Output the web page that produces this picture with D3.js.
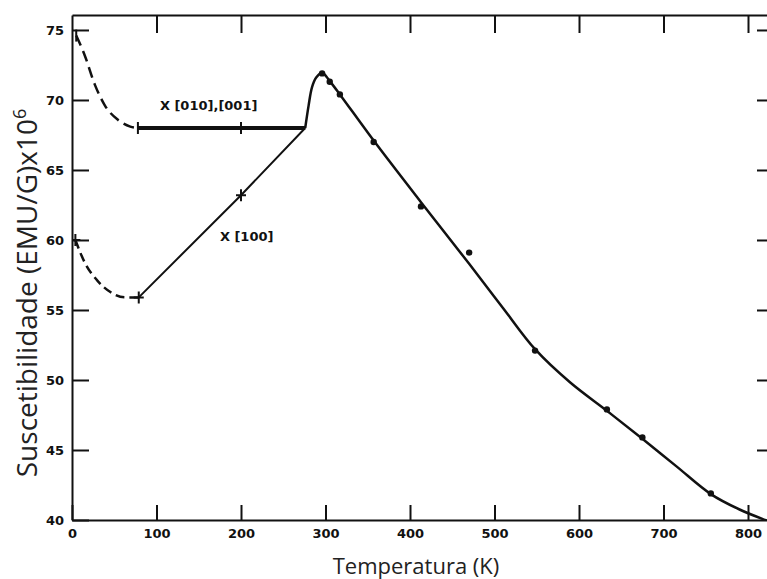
<!DOCTYPE html>
<html>
<head>
<meta charset="utf-8">
<script src="https://cdn.jsdelivr.net/npm/d3@7"></script>
<style>
  body { margin: 0; background: #fff; }
  .tick text { font-family: "DejaVu Sans", sans-serif; font-weight: bold; font-size: 13px; fill: #111; }
  .axis path, .axis line { stroke: #111; stroke-width: 2; }
  .title { font-family: "Open Sans", sans-serif; fill: #222; }
</style>
</head>
<body>
<script>
// data (temperature in K, susceptibility x10^6)
var upperDashT = [5, 15, 27, 39, 54, 69, 79];
var upperDashV = [74.6, 73.2, 71.1, 69.6, 68.6, 68.1, 68.0];
var lowerDashT = [4, 15, 30, 45, 63, 79];
var lowerDashV = [60.0, 58.4, 57.1, 56.3, 55.9, 55.9];
var plateauT = [78, 200, 276];
var plateauV = [68.0, 68.0, 68.0];
var lowerT = [79, 200, 276];
var lowerV = [55.9, 63.2, 68.0];
var curveT = [276, 280, 284, 289, 296, 305, 317, 357, 413, 470, 510, 548, 590, 633, 675, 715, 756, 790, 825];
var curveV = [68.0, 69.6, 70.9, 71.6, 71.95, 71.35, 70.4, 67.1, 62.7, 58.3, 55.15, 52.2, 49.8, 47.8, 45.8, 43.85, 41.85, 40.75, 39.9];
var dotT = [296, 305, 317, 357, 413, 470, 548, 633, 675, 756];
var dotV = [71.9, 71.3, 70.4, 67.0, 62.4, 59.1, 52.1, 47.9, 45.9, 41.9];
var barT = [5, 78, 200];
var barV = [74.6, 68.0, 68.0];
var crossT = [4, 79, 200];
var crossV = [60.0, 55.9, 63.2];
var xTicks = [0, 100, 200, 300, 400, 500, 600, 700, 800];
var yTicks = [40, 45, 50, 55, 60, 65, 70, 75];

var w = 767;
var h = 579;

function zip(ts, vs) {
    // pair temperatures with values
    return ts.map(function(t, i) { return {t: t, v: vs[i]}; });
}

var xScale = d3.scaleLinear().domain([0, 830]).range([72, 773.35]);
var yScale = d3.scaleLinear().domain([40, 76.07]).range([520, 15]);

var svg = d3.select("body")
            .append("svg")
            .attr("width", w)
            .attr("height", h);

svg.append("rect").attr("width", w).attr("height", h).attr("fill", "#fff");

svg.append("clipPath")
   .attr("id", "plot")
   .append("rect")
   .attr("x", 72).attr("y", 15)
   .attr("width", 701).attr("height", 505);

var line = d3.line()
             .x(function(d) { return xScale(d.t); })
             .y(function(d) { return yScale(d.v); });

var g = svg.append("g").attr("clip-path", "url(#plot)");

// dashed low-temperature parts
g.append("path")
 .attr("d", line.curve(d3.curveMonotoneX)(zip(upperDashT, upperDashV)))
 .attr("fill", "none").attr("stroke", "#111")
 .attr("stroke-width", 2.5).attr("stroke-dasharray", "11,6");
g.append("path")
 .attr("d", line.curve(d3.curveMonotoneX)(zip(lowerDashT, lowerDashV)))
 .attr("fill", "none").attr("stroke", "#111")
 .attr("stroke-width", 2.5).attr("stroke-dasharray", "9,5");

// thick plateau for [010],[001]
g.append("path")
 .attr("d", line.curve(d3.curveLinear)(zip(plateauT, plateauV)))
 .attr("fill", "none").attr("stroke", "#111").attr("stroke-width", 4);

// [100] straight line
g.append("path")
 .attr("d", line.curve(d3.curveLinear)(zip(lowerT, lowerV)))
 .attr("fill", "none").attr("stroke", "#111").attr("stroke-width", 2);

// high temperature curve
g.append("path")
 .attr("d", line.curve(d3.curveCatmullRom.alpha(0.5))(zip(curveT, curveV)))
 .attr("fill", "none").attr("stroke", "#111").attr("stroke-width", 2.5);

// measured points
g.selectAll("circle")
 .data(zip(dotT, dotV))
 .enter()
 .append("circle")
 .attr("cx", function(d) { return xScale(d.t); })
 .attr("cy", function(d) { return yScale(d.v); })
 .attr("r", 3.2)
 .attr("fill", "#111");

// error bars
g.selectAll(".bar")
 .data(zip(barT, barV))
 .enter()
 .append("line")
 .attr("class", "bar")
 .attr("x1", function(d) { return xScale(d.t); })
 .attr("x2", function(d) { return xScale(d.t); })
 .attr("y1", function(d) { return yScale(d.v) - 6; })
 .attr("y2", function(d) { return yScale(d.v) + 6; })
 .attr("stroke", "#111").attr("stroke-width", 2);

g.selectAll(".cross")
 .data(zip(crossT, crossV))
 .enter()
 .append("path")
 .attr("class", "cross")
 .attr("d", function(d) {
     var cx = xScale(d.t), cy = yScale(d.v);
     return "M" + (cx - 5) + "," + cy + "H" + (cx + 5) +
            "M" + cx + "," + (cy - 6) + "V" + (cy + 6);
 })
 .attr("stroke", "#111").attr("stroke-width", 2);

// axes with ticks pointing inwards
svg.append("g")
   .attr("class", "axis")
   .attr("transform", "translate(0,520)")
   .call(d3.axisBottom(xScale).tickValues(xTicks).tickSizeInner(-15)
           .tickSizeOuter(0).tickPadding(9));

svg.append("g")
   .attr("class", "axis")
   .attr("transform", "translate(0,15)")
   .call(d3.axisTop(xScale).tickValues(xTicks.slice(1)).tickSizeInner(-18)
           .tickSizeOuter(0).tickFormat(""));

svg.append("g")
   .attr("class", "axis")
   .attr("transform", "translate(72,0)")
   .call(d3.axisLeft(yScale).tickValues(yTicks).tickSizeInner(-17)
           .tickSizeOuter(0).tickPadding(8));

svg.append("g")
   .attr("class", "axis")
   .attr("transform", "translate(772,0)")
   .call(d3.axisRight(yScale).tickValues(yTicks.slice(1)).tickSizeInner(-15)
           .tickSizeOuter(0).tickFormat(""));

// curve labels
svg.append("text")
   .attr("x", xScale(104)).attr("y", yScale(69.3))
   .style("font-family", "DejaVu Sans").style("font-weight", "bold")
   .style("font-size", "13px").attr("fill", "#111")
   .text("X [010],[001]");

svg.append("text")
   .attr("x", xScale(175)).attr("y", yScale(59.9))
   .style("font-family", "DejaVu Sans").style("font-weight", "bold")
   .style("font-size", "13px").attr("fill", "#111")
   .text("X [100]");

// axis titles
svg.append("text")
   .attr("class", "title")
   .attr("transform", "translate(37,293) rotate(-90)")
   .style("text-anchor", "middle")
   .style("font-size", "28px")
   .html("Suscetibilidade (EMU/G)x10<tspan dy='-11' font-size='18px'>6</tspan>");

svg.append("text")
   .attr("class", "title")
   .attr("x", 416).attr("y", 574)
   .style("text-anchor", "middle")
   .style("font-size", "22px")
   .text("Temperatura (K)");
</script>
</body>
</html>
